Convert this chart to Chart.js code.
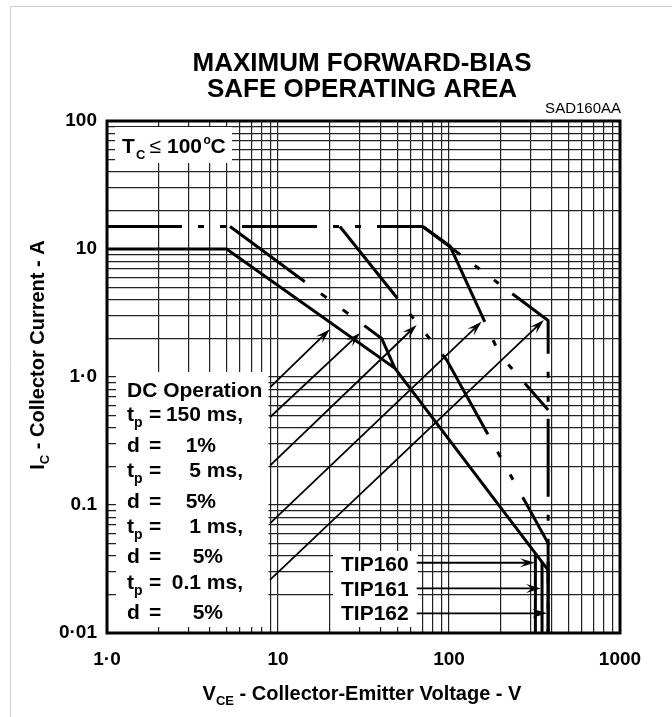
<!DOCTYPE html>
<html>
<head>
<meta charset="utf-8">
<script src="https://cdn.jsdelivr.net/npm/chart.js@4.4.1/dist/chart.umd.min.js"></script>
<style>
  html, body { margin: 0; padding: 0; background: #fff; }
  #wrap { position: relative; width: 672px; height: 717px; }
</style>
</head>
<body>
<div id="wrap"><canvas id="soa" width="672" height="717"></canvas></div>
<script>
// grid / tick positions
const xGridValues = [1, 2, 3, 4, 5, 6, 7, 8, 9, 10, 20, 30, 40, 50, 60, 70, 80, 90,
  100, 200, 300, 400, 500, 600, 700, 800, 900, 1000];
const yGridValues = [0.01, 0.02, 0.03, 0.04, 0.05, 0.06, 0.07, 0.08, 0.09,
  0.1, 0.2, 0.3, 0.4, 0.5, 0.6, 0.7, 0.8, 0.9,
  1, 2, 3, 4, 5, 6, 7, 8, 9, 10, 20, 30, 40, 50, 60, 70, 80, 90, 100];
const xLabelValues = [1, 10, 100, 1000];
const xLabelText = ['1·0', '10', '100', '1000'];
const yLabelValues = [0.01, 0.1, 1, 10, 100];
const yLabelText = ['0·01', '0.1', '1·0', '10', '100'];

// SOA boundaries (V, A)
const dcV = [1, 5, 48.3, 380];
const dcI = [10, 10, 1.17, 0.031];
const peakV = [1, 70.2];
const peakI = [15, 15];
const ms150V = [5.24, 40.4, 48.3];
const ms150I = [15, 2.0, 1.17];
const ms5V = [23, 97, 380, 380];
const ms5I = [15, 1.357, 0.0502, 0.01];
const ms1V = [70.2, 101.3, 198.7, 380];
const ms1I = [15, 10.55, 1.486, 0.552];
const ms01V = [70.2, 380, 380];
const ms01I = [15, 2.76, 0.01];

// device V(CEO) limits
const tipNames = ['TIP160', 'TIP161', 'TIP162'];
const tipVceo = [320, 350, 380];
const tipTopI = [0.042, 0.0358, 0.0308];

// pointer arrows
const arrowFromV = [8.98, 8.98, 8.98, 8.98, 8.98];
const arrowFromI = [0.831, 0.485, 0.203, 0.0719, 0.026];
const arrowToV = [20.1, 30.2, 64.7, 155, 359];
const arrowToI = [2.36, 2.21, 2.55, 2.70, 2.79];
const tipArrowFromV = [64.7, 64.7, 64.7];
const tipArrowI = [0.0354, 0.0223, 0.01425];
const tipArrowToV = [318, 345, 375];

const FONT = '"Liberation Sans", Arial, Helvetica, sans-serif';

function pts(xs, ys) {
  return xs.map((x, i) => ({ x: x, y: ys[i] }));
}

function curve(xs, ys, dash, offset) {
  return {
    data: pts(xs, ys),
    borderColor: '#000',
    borderWidth: 3,
    borderDash: dash || [],
    borderDashOffset: offset || 0,
    borderCapStyle: 'butt',
    borderJoinStyle: 'miter',
    pointRadius: 0,
    fill: false,
    tension: 0
  };
}

function txt(ctx, s, x, y, size, align, weight) {
  ctx.font = (weight || 'bold') + ' ' + size + 'px ' + FONT;
  ctx.textAlign = align || 'left';
  ctx.fillText(s, x, y);
}

function runs(ctx, parts, x, y, measureOnly) {
  let cx = x;
  parts.forEach(p => {
    ctx.font = 'bold ' + p.size + 'px ' + FONT;
    if (!measureOnly) ctx.fillText(p.t, cx, y + (p.dy || 0));
    cx += ctx.measureText(p.t).width;
  });
  return cx - x;
}

function arrow(ctx, x1, y1, x2, y2) {
  const a = Math.atan2(y2 - y1, x2 - x1);
  const L = 15, W = 4.5;
  const c = Math.cos(a), s = Math.sin(a);
  ctx.beginPath();
  ctx.moveTo(x1, y1);
  ctx.lineTo(x2 - 8 * c, y2 - 8 * s);
  ctx.stroke();
  ctx.beginPath();
  ctx.moveTo(x2, y2);
  ctx.lineTo(x2 - L * c + W * s, y2 - L * s - W * c);
  ctx.lineTo(x2 - 0.6 * L * c, y2 - 0.6 * L * s);
  ctx.lineTo(x2 - L * c - W * s, y2 - L * s + W * c);
  ctx.closePath();
  ctx.fill();
}

const decor = {
  id: 'decor',
  beforeDatasetsDraw(chart) {
    const ctx = chart.ctx;
    ctx.save();
    ctx.fillStyle = '#fff';
    ctx.fillRect(115, 127, 117, 36);    // Tc box
    ctx.fillRect(116, 372, 152.5, 255); // pulse legend
    ctx.fillRect(333, 551, 85, 76);     // TIP labels
    ctx.restore();
  },
  afterDraw(chart) {
    const ctx = chart.ctx;
    const xs = chart.scales.x, ys = chart.scales.y;
    const a = chart.chartArea;
    ctx.save();

    // outer light frame
    ctx.strokeStyle = '#cfcfcf';
    ctx.lineWidth = 1;
    ctx.beginPath();
    ctx.moveTo(10.5, 717);
    ctx.lineTo(10.5, 6.5);
    ctx.lineTo(672, 6.5);
    ctx.stroke();

    // plot frame
    ctx.strokeStyle = '#000';
    ctx.lineWidth = 3;
    ctx.strokeRect(a.left, a.top, a.right - a.left, a.bottom - a.top);

    // arrows
    ctx.fillStyle = '#000';
    ctx.lineWidth = 1.8;
    arrowFromV.forEach((v, i) => {
      arrow(ctx, xs.getPixelForValue(v), ys.getPixelForValue(arrowFromI[i]),
        xs.getPixelForValue(arrowToV[i]), ys.getPixelForValue(arrowToI[i]));
    });
    tipArrowFromV.forEach((v, i) => {
      const y = ys.getPixelForValue(tipArrowI[i]);
      arrow(ctx, xs.getPixelForValue(v), y, xs.getPixelForValue(tipArrowToV[i]), y);
    });

    ctx.textBaseline = 'alphabetic';
    // Tc note
    txt(ctx, 'T', 122, 152.7, 21);
    txt(ctx, 'C', 136, 158.5, 13);
    txt(ctx, '≤', 149.5, 152.7, 21, 'left', 'normal');
    txt(ctx, '100', 167, 152.7, 21);
    txt(ctx, 'o', 203.5, 143.5, 12);
    txt(ctx, 'C', 210.5, 152.7, 21);

    // pulse legend
    const L = 127, EQ = 149;
    txt(ctx, 'DC Operation', L, 396.7, 21);
    [[420.7, '150 ms,'], [477.3, '5 ms,'], [533.3, '1 ms,'], [589, '0.1 ms,']].forEach(r => {
      txt(ctx, 't', L, r[0], 21);
      txt(ctx, 'p', L + 7, r[0] + 6, 14);
      txt(ctx, '=', EQ, r[0], 21);
      txt(ctx, r[1], 243, r[0], 21, 'right');
    });
    [[451.7, '1%', 216], [508.3, '5%', 216], [563.3, '5%', 223], [619.3, '5%', 223]].forEach(r => {
      txt(ctx, 'd', L, r[0], 21);
      txt(ctx, '=', EQ, r[0], 21);
      txt(ctx, r[1], r[2], r[0], 21, 'right');
    });

    // device labels
    [571, 596, 620].forEach((b, i) => txt(ctx, tipNames[i], 341, b, 21));

    // titles
    txt(ctx, 'MAXIMUM FORWARD-BIAS', 362, 71, 26, 'center');
    txt(ctx, 'SAFE OPERATING AREA', 362, 97, 26, 'center');
    txt(ctx, 'SAD160AA', 621, 113, 15, 'right', 'normal');

    // axis titles
    ctx.textAlign = 'left';
    const xt = [{ t: 'V', size: 20 }, { t: 'CE', size: 13, dy: 5 },
      { t: ' - Collector-Emitter Voltage - V', size: 20 }];
    const xw = runs(ctx, xt, 0, 0, true);
    runs(ctx, xt, 362 - xw / 2, 700);

    const yt = [{ t: 'I', size: 20 }, { t: 'C', size: 13, dy: 5 },
      { t: ' - Collector Current - A', size: 20 }];
    const yw = runs(ctx, yt, 0, 0, true);
    ctx.translate(44, 355);
    ctx.rotate(-Math.PI / 2);
    runs(ctx, yt, -yw / 2, 0);
    ctx.restore();
  }
};

const dotDash = [75, 16, 6, 16, 6, 16];
const datasets = [
  curve(dcV, dcI),
  curve(peakV, peakI, dotDash, 0),
  curve(ms150V, ms150I, [93, 20, 7, 20, 7, 20], 0),
  curve(ms5V, ms5I, [92, 20, 6, 20, 6, 20], 0),
  curve(ms1V, ms1I, [117, 20, 6, 23, 6, 19], 0),
  curve(ms01V, ms01I, [78, 18, 6, 18, 6, 17], 31)
];
tipVceo.forEach((v, i) => {
  datasets.push(curve([v, v], [tipTopI[i], 0.01]));
});

const tickFont = { family: FONT, size: 19, weight: 'bold' };

new Chart(document.getElementById('soa'), {
  type: 'line',
  data: { datasets: datasets },
  options: {
    responsive: false,
    animation: false,
    events: [],
    layout: { padding: { left: 0, right: 52, top: 121, bottom: 0 } },
    plugins: { legend: { display: false }, tooltip: { enabled: false } },
    scales: {
      x: {
        type: 'logarithmic',
        min: 1,
        max: 1000,
        afterBuildTicks: s => { s.ticks = xGridValues.map(v => ({ value: v })); },
        afterFit: s => { s.height = 84; },
        border: { display: false },
        grid: { color: '#222', lineWidth: 1.2, drawTicks: false },
        ticks: {
          autoSkip: false,
          maxRotation: 0,
          padding: 15,
          color: '#000',
          font: tickFont,
          callback: v => {
            const k = xLabelValues.indexOf(v);
            return k >= 0 ? xLabelText[k] : '';
          }
        }
      },
      y: {
        type: 'logarithmic',
        min: 0.01,
        max: 100,
        afterBuildTicks: s => { s.ticks = yGridValues.map(v => ({ value: v })); },
        afterFit: s => { s.width = 107; },
        border: { display: false },
        grid: { color: '#222', lineWidth: 1.2, drawTicks: false },
        ticks: {
          autoSkip: false,
          padding: 10,
          color: '#000',
          font: tickFont,
          callback: v => {
            const k = yLabelValues.indexOf(v);
            return k >= 0 ? yLabelText[k] : '';
          }
        }
      }
    }
  },
  plugins: [decor]
});
</script>
</body>
</html>
